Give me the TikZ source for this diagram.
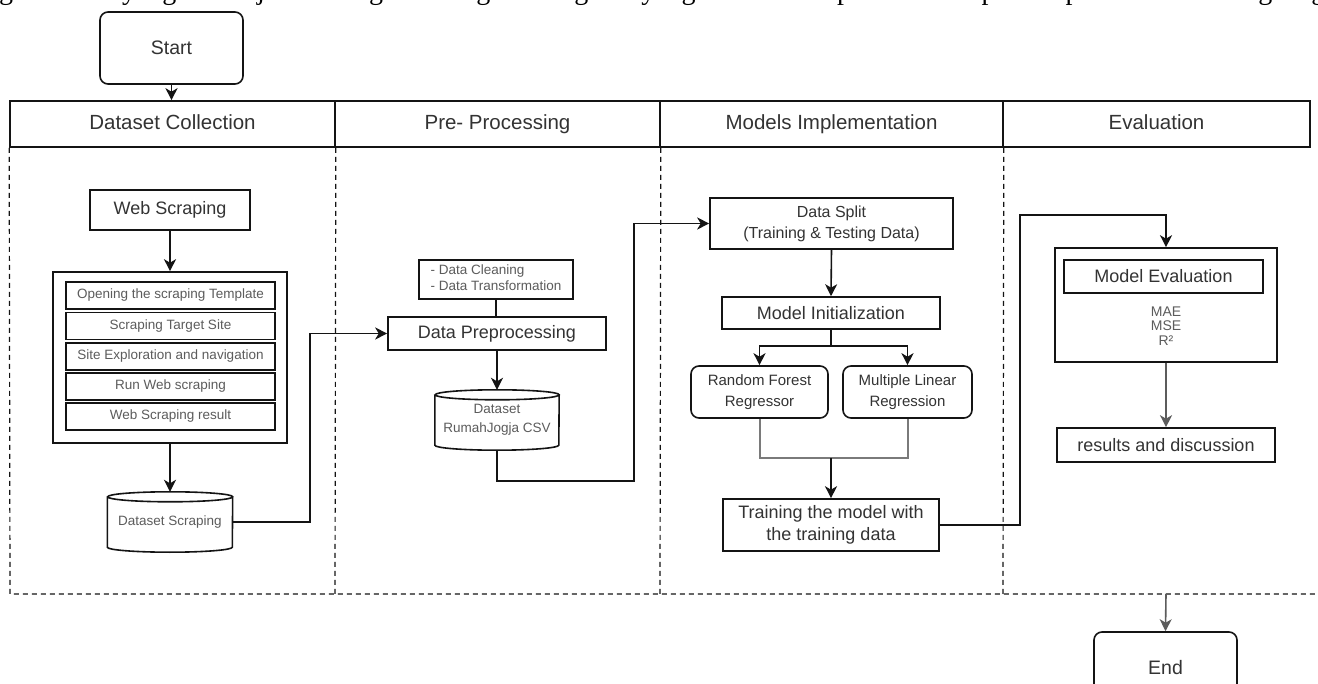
\documentclass[tikz,border=0pt]{standalone}
\usepackage{fontspec}
\setmainfont{Liberation Sans}
\newfontfamily\serifface{Liberation Serif}
\usetikzlibrary{arrows.meta,calc}
\definecolor{ln}{HTML}{141414}
\definecolor{txt}{HTML}{333333}
\definecolor{lt}{HTML}{5C5C5C}
\definecolor{gl}{HTML}{7A7A7A}
\newcommand\fhead{\fontsize{20.5}{24}\selectfont}
\newcommand\fbig{\fontsize{18}{21.5}\selectfont}
\newcommand\fmid{\fontsize{15}{21}\selectfont}
\newcommand\fsplit{\fontsize{16}{21}\selectfont}
\newcommand\fsmall{\fontsize{13.5}{16}\selectfont}
\newcommand\drawcyl[3]{%
  \draw[boxline] ($(#1.north west)+(0,-#3)$) -- ($(#1.south west)+(0,#3)$)
    arc[start angle=180,end angle=360,x radius=#2,y radius=#3]
    -- ($(#1.north east)+(0,-#3)$)
    arc[start angle=0,end angle=180,x radius=#2,y radius=#3]
    arc[start angle=180,end angle=360,x radius=#2,y radius=#3];}
\begin{document}
\begin{tikzpicture}[x=1pt,y=1pt,
  boxline/.style={draw=ln,line width=1.6pt},
  base/.style={boxline,inner sep=0pt,align=center,text=txt},
  roundbox/.style={base,rounded corners=8pt},
  plain/.style={inner sep=0pt,align=center},
  conn/.style={draw=ln,line width=1.6pt},
  arr/.style={conn,-{Stealth[length=12pt,width=12pt,inset=3.5pt]}},
  lane/.style={draw=ln,line width=1.2pt,dash pattern=on 5pt off 4pt},
  hd/.style={base,minimum height=46pt,font=\fhead,text height=15pt,text depth=4pt}]
\useasboundingbox (0,0) rectangle (1318,-684);
\clip (0,0) rectangle (1318,-684);
\fill[white] (0,0) rectangle (1318,-684);

% cut-off line of body text at the top
\node[anchor=base west,inner sep=0pt] (toptext) at (-1,0.5)
  {\serifface\fontsize{28}{30}\selectfont\makebox[1326pt][s]{gambaran yang lebih jelas mengenai langkah-langkah yang akan ditempuh selama proses penelitian berlangsung}};

% start
\node[roundbox,minimum width=143pt,minimum height=72pt,font=\fontsize{19.5}{23}\selectfont] (start) at (171.5,-48) {Start};

% header row
\node[hd,minimum width=325pt] (h1) at (172.5,-124) {Dataset Collection};
\node[hd,minimum width=325pt] (h2) at (497.5,-124) {Pre- Processing};
\node[hd,minimum width=343pt] (h3) at (831.5,-124) {Models Implementation};
\node[hd,minimum width=307pt] (h4) at (1156.5,-124) {Evaluation};

% lanes
\draw[lane] (h1.south west) -- (10,-594) -- (1318,-594);
\draw[lane] (h1.south east) -- (335,-594);
\draw[lane] (h2.south east) -- (660,-594);
\draw[lane] (h3.south east) -- (1003,-594);

\draw[arr] (start.south) -- (start.south |- h1.north);

% column 1
\node[base,minimum width=160pt,minimum height=40pt,font=\fbig] (web) at (170,-210) {Web Scraping};
\node[base,minimum width=234pt,minimum height=171pt] (scr) at (170,-357.5) {};
\node[base,text=lt,minimum width=209pt,minimum height=27pt,font=\fsmall] (s1) at (170.5,-295.5) {Opening the scraping Template};
\node[base,text=lt,minimum width=209pt,minimum height=27pt,font=\fsmall] (s2) at (170.5,-326) {Scraping Target Site};
\node[base,text=lt,minimum width=209pt,minimum height=27pt,font=\fsmall] (s3) at (170.5,-356.5) {Site Exploration and navigation};
\node[base,text=lt,minimum width=209pt,minimum height=27pt,font=\fsmall] (s4) at (170.5,-386.5) {Run Web scraping};
\node[base,text=lt,minimum width=209pt,minimum height=27pt,font=\fsmall] (s5) at (170.5,-416.5) {Web Scraping result};
\node[plain,text=lt,minimum width=125pt,minimum height=60pt,font=\fsmall] (ds) at (170,-522) {Dataset Scraping};
\drawcyl{ds}{62.5}{5}
\draw[arr] (web.south) -- (scr.north);
\draw[arr] (scr.south) -- (ds.north);

% column 2
\node[base,text=lt,minimum width=154pt,minimum height=39pt,font=\fsmall] (clean) at (496,-279.5)
  {\begin{tabular}{@{}l@{}}- Data Cleaning\\- Data Transformation\end{tabular}};
\node[base,minimum width=218pt,minimum height=33pt,font=\fbig] (dp) at (497,-333.5) {Data Preprocessing};
\node[plain,text=lt,minimum width=124pt,minimum height=60pt,font=\fontsize{13.5}{19}\selectfont] (rj) at (497,-420)
  {Dataset\\RumahJogja CSV};
\drawcyl{rj}{62}{5}
\draw[conn] (clean.south) -- (clean.south |- dp.north);
\draw[arr] (dp.south) -- (rj.north);
\draw[arr] (ds.east) -- (310,-522) |- (dp.west);

% column 3
\node[base,minimum width=243pt,minimum height=51pt,font=\fsplit] (split) at (831.5,-223.5)
  {Data Split\\(Training \& Testing Data)};
\node[base,minimum width=218pt,minimum height=32pt,font=\fbig] (init) at (831,-313) {Model Initialization};
\node[roundbox,minimum width=137pt,minimum height=52pt,font=\fmid] (rf) at (759.5,-392) {Random Forest\\Regressor};
\node[roundbox,minimum width=129pt,minimum height=52pt,font=\fmid] (mlr) at (907.5,-392) {Multiple Linear\\Regression};
\node[base,minimum width=216pt,minimum height=52pt,font=\fbig] (train) at (831,-525)
  {Training the model with\\the training data};
\coordinate (br) at (831,-346);
\coordinate (mg) at (831,-458);
\draw[arr] (split.south) -- (init.north);
\draw[conn] (init.south) -- (br);
\draw[arr] (br) -| (rf.north);
\draw[arr] (br) -| (mlr.north);
\draw[draw=gl,line width=2pt] (rf.south) |- (mg) -| (mlr.south);
\draw[arr] (mg) -- (train.north);
\draw[arr] (rj.south) -- (497,-481) -- (634,-481) |- (split.west);

% column 4
\node[base,minimum width=222pt,minimum height=114pt] (evbox) at (1166,-305) {};
\node[base,minimum width=199pt,minimum height=33pt,font=\fbig] (meval) at (1163.5,-276.5) {Model Evaluation};
\node[plain,text=lt,font=\fontsize{14}{14.5}\selectfont] (metrics) at (1166,-326) {MAE\\MSE\\R²};
\node[base,minimum width=218pt,minimum height=34pt,font=\fbig] (res) at (1166,-445) {results and discussion};
\draw[arr] (train.east) -- (1020,-525) |- (1166,-215) -- (evbox.north);
\draw[arr,draw=lt] (evbox.south) -- (res.north);

% end
\coordinate (laneout) at (1166,-594);
\node[roundbox,minimum width=143pt,minimum height=72pt,font=\fontsize{19.5}{23}\selectfont] (endn) at (1165.5,-668) {End};
\draw[arr,draw=lt] (laneout) -- (endn.north);
\end{tikzpicture}
\end{document}
